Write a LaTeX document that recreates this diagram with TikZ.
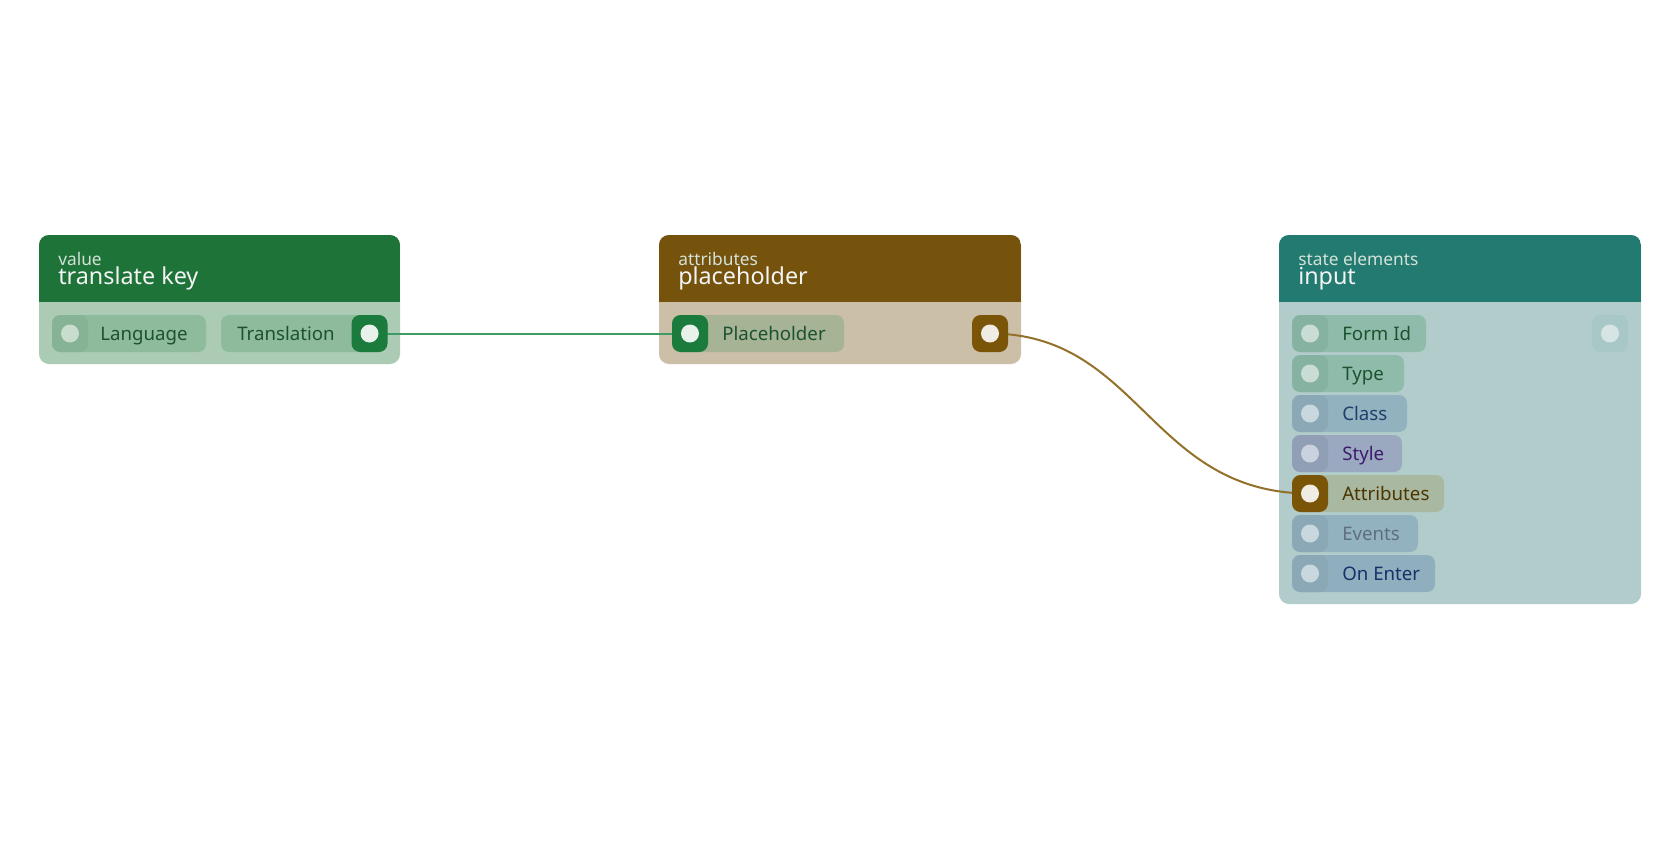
\documentclass[tikz,border=0pt]{standalone}
\usepackage{fontspec}
\setmainfont{Noto Sans}
\usetikzlibrary{calc}
\definecolor{hdrG}{HTML}{1E7339}
\definecolor{bodyG}{HTML}{ABCBB5}
\definecolor{pillG}{HTML}{8FBB9D}
\definecolor{portGdim}{HTML}{86B295}
\definecolor{dotGdim}{HTML}{C9DDCF}
\definecolor{txtG}{HTML}{1B5230}
\definecolor{portGreen}{HTML}{1A7B3D}
\definecolor{dotLight}{HTML}{E9F1EB}
\definecolor{hdrB}{HTML}{76530D}
\definecolor{bodyB}{HTML}{CBBFA8}
\definecolor{pillPh}{HTML}{A6B394}
\definecolor{portBrown}{HTML}{7A5508}
\definecolor{dotBrown}{HTML}{F1ECE3}
\definecolor{hdrT}{HTML}{237A70}
\definecolor{bodyT}{HTML}{B1CCCB}
\definecolor{pillTG}{HTML}{8FBCAA}
\definecolor{portTG}{HTML}{86B3A1}
\definecolor{dotTG}{HTML}{C9DDD6}
\definecolor{pillBl}{HTML}{93B2BF}
\definecolor{portBl}{HTML}{8AA8B6}
\definecolor{dotBl}{HTML}{C8D8DE}
\definecolor{txtBl}{HTML}{1F3F6D}
\definecolor{pillSt}{HTML}{9AA9BF}
\definecolor{portSt}{HTML}{919FB6}
\definecolor{dotSt}{HTML}{C9D2DE}
\definecolor{txtSt}{HTML}{3F1A6E}
\definecolor{pillAt}{HTML}{A8B8A1}
\definecolor{txtAt}{HTML}{4D3500}
\definecolor{txtEv}{HTML}{5E6E82}
\definecolor{pillOE}{HTML}{8FAFBF}
\definecolor{txtOE}{HTML}{1B2F68}
\definecolor{portR}{HTML}{A8C7C7}
\definecolor{dotR}{HTML}{D6E5E4}
\definecolor{subtxt}{HTML}{D3E2D8}
\definecolor{ttltxt}{HTML}{F4F4F4}
\definecolor{edgeG}{HTML}{3E9B63}
\definecolor{edgeB}{HTML}{94712A}
\pgfdeclarelayer{bg}
\pgfdeclarelayer{edges}
\pgfsetlayers{bg,edges,main}
\tikzset{
  portsq/.style={rectangle, rounded corners=6.5pt, minimum width=27pt, minimum height=27.75pt, inner sep=0pt, draw=none},
  pill/.style={rounded corners=6pt},
  lbl/.style={anchor=base west, inner sep=0pt, font=\fontsize{14}{16}\selectfont},
  subttl/.style={anchor=base west, inner sep=0pt, text=subtxt, font=\fontsize{13}{15}\selectfont},
  ttl/.style={anchor=base west, inner sep=0pt, text=ttltxt, font=\fontsize{17.5}{19}\selectfont},
  edge/.style={line width=1.5pt},
}
\newcommand{\portdot}[5]{%
  \node[portsq, fill=#4] (#1) at (#2,#3) {};
  \fill[#5] (#1.center) circle (6.75pt);}
\newcommand{\graphnode}[6]{%
  \begin{pgfonlayer}{bg}
  \fill[#6, rounded corners=7.5pt] (#1,#2) rectangle (#3,#4);
  \begin{scope}
    \clip[rounded corners=7.5pt] (#1,#2) rectangle (#3,#4);
    \fill[#5] (#1,#2) rectangle (#3,302);
  \end{scope}
  \end{pgfonlayer}}
\begin{document}
\begin{tikzpicture}[x=0.75pt,y=-0.75pt]
\useasboundingbox (0,0) rectangle (1680,840);
\begin{pgfonlayer}{bg}
\fill[white] (0,0) rectangle (1680,840);
\end{pgfonlayer}

% ---------- node 1: translate key ----------
\graphnode{39}{235}{400}{364}{hdrG}{bodyG}
\node[subttl] (n1sub) at (58,265) {value};
\node[ttl] (n1ttl) at (58,284) {translate key};
\begin{pgfonlayer}{bg}
\fill[pillG, pill] (52,315) rectangle (206,352);
\fill[pillG, pill] (221,315) rectangle (387,352);
\end{pgfonlayer}
\portdot{lang}{70}{333.5}{portGdim}{dotGdim}
\node[lbl, text=txtG] (langL) at (100,340) {Language};
\portdot{trans}{369.5}{333.5}{portGreen}{dotLight}
\node[lbl, text=txtG] (transL) at (237,340) {Translation};

% ---------- node 2: placeholder ----------
\graphnode{659}{235}{1021}{364}{hdrB}{bodyB}
\node[subttl] (n2sub) at (678,265) {attributes};
\node[ttl] (n2ttl) at (678,284) {placeholder};
\begin{pgfonlayer}{bg}
\fill[pillPh, pill] (672,315) rectangle (844,352);
\end{pgfonlayer}
\portdot{phin}{690}{333.5}{portGreen}{dotLight}
\node[lbl, text=txtG] (phL) at (722,340) {Placeholder};
\portdot{phout}{990}{333.5}{portBrown}{dotBrown}

% ---------- node 3: input ----------
\graphnode{1279}{235}{1641}{604}{hdrT}{bodyT}
\node[subttl] (n3sub) at (1298,265) {state elements};
\node[ttl] (n3ttl) at (1298,284) {input};
\begin{pgfonlayer}{bg}
\fill[pillTG, pill] (1292,315) rectangle (1426,352);
\fill[pillTG, pill] (1292,355) rectangle (1404,392);
\fill[pillBl, pill] (1292,395) rectangle (1407,432);
\fill[pillSt, pill] (1292,435) rectangle (1402,472);
\fill[pillAt, pill] (1292,475) rectangle (1444,512);
\fill[pillBl, pill] (1292,515) rectangle (1418,552);
\fill[pillOE, pill] (1292,555) rectangle (1435,592);
\end{pgfonlayer}
\portdot{formid}{1310}{333.5}{portTG}{dotTG}
\node[lbl, text=txtG] (formidL) at (1342,340) {Form Id};
\portdot{type}{1310}{373.5}{portTG}{dotTG}
\node[lbl, text=txtG] (typeL) at (1342,380) {Type};
\portdot{class}{1310}{413.5}{portBl}{dotBl}
\node[lbl, text=txtBl] (classL) at (1342,420) {Class};
\portdot{style}{1310}{453.5}{portSt}{dotSt}
\node[lbl, text=txtSt] (styleL) at (1342,460) {Style};
\portdot{attr}{1310}{493.5}{portBrown}{dotBrown}
\node[lbl, text=txtAt] (attrL) at (1342,500) {Attributes};
\portdot{events}{1310}{533.5}{portBl}{dotBl}
\node[lbl, text=txtEv] (eventsL) at (1342,540) {Events};
\portdot{onenter}{1310}{573.5}{portBl}{dotBl}
\node[lbl, text=txtOE] (onenterL) at (1342,580) {On Enter};
\portdot{inout}{1610}{333.5}{portR}{dotR}

% ---------- connectors ----------
\begin{pgfonlayer}{edges}
\draw[edge, edgeG] (trans.center) -- (phin.center);
\draw[edge, edgeB] (phout.center) .. controls ($(phout.center)+(150,0)$) and ($(attr.center)+(-160,0)$) .. (attr.center);
\end{pgfonlayer}
\end{tikzpicture}
\end{document}
